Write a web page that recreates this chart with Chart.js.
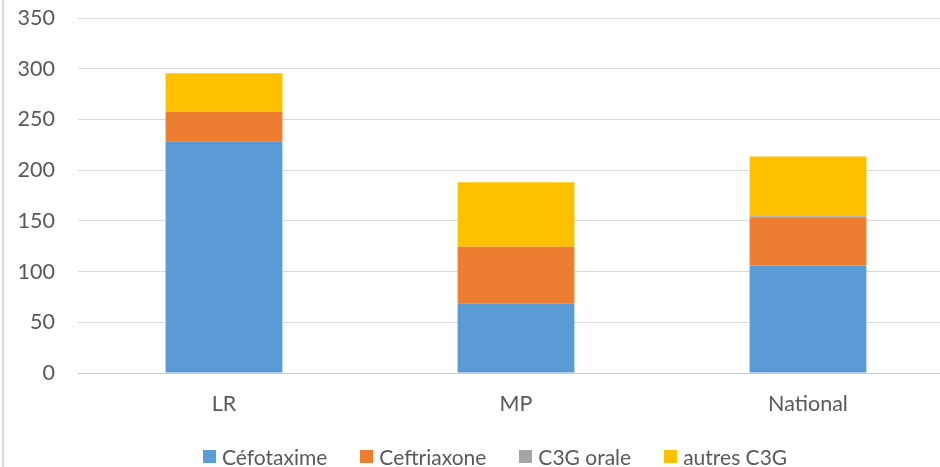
<!DOCTYPE html>
<html>
<head>
<meta charset="utf-8">
<script src="https://cdn.jsdelivr.net/npm/chart.js@4"></script>
<style>
  html, body { margin: 0; padding: 0; background: #fff; }
  body { width: 940px; height: 467px; overflow: hidden; position: relative; }
  #wrap { position: absolute; left: 0; top: 0; width: 956px; height: 467px; }
  #frame { position: absolute; left: 2px; top: 0; width: 2px; height: 467px; background: #d9d9d9; }
  #legend { position: absolute; left: 203px; top: 444px; height: 24px; display: flex; align-items: center;
            font-family: Lato, "Open Sans", sans-serif; font-size: 21px;
            color: #595959; white-space: nowrap; }
  .item { display: flex; align-items: center; margin-right: 33px; }
  .box { width: 13px; height: 13px; margin-right: 6px; }
</style>
</head>
<body>
<div id="wrap"><canvas id="c" width="956" height="467"></canvas></div>
<div id="frame"></div>
<div id="legend"></div>
<script>
const categories = ["LR", "MP", "National"];
const seriesNames = ["Céfotaxime", "Ceftriaxone", "C3G orale", "autres C3G"];
const cefotaxime = [228.5, 68.3, 106];
const ceftriaxone = [29, 56.2, 47.5];
const c3gOrale = [0, 0, 1];
const autresC3G = [38, 63.5, 59];
const yTicks = [0, 50, 100, 150, 200, 250, 300, 350];

const colors = ["#5B9BD5", "#ED7D31", "#A5A5A5", "#FFC000"];
const seriesValues = [cefotaxime, ceftriaxone, c3gOrale, autresC3G];

const font = { family: "Lato, 'Open Sans', sans-serif", size: 21.5 };

const chart = new Chart(document.getElementById("c"), {
  type: "bar",
  data: {
    labels: categories,
    datasets: seriesNames.map((n, i) => ({
      label: n,
      data: seriesValues[i],
      backgroundColor: colors[i],
      borderWidth: 0,
      categoryPercentage: 1,
      barPercentage: 0.4
    }))
  },
  options: {
    responsive: false,
    animation: false,
    layout: { padding: { top: 18, left: 0, right: 2, bottom: 0 } },
    plugins: { legend: { display: false }, tooltip: { enabled: false } },
    scales: {
      x: {
        stacked: true,
        grid: { display: false, drawTicks: false },
        border: { display: true, color: "#c9c9c9", width: 1 },
        ticks: { color: "#595959", font: font, padding: 18 },
        afterFit: s => { s.height = 94; }
      },
      y: {
        stacked: true,
        min: 0, max: 350,
        afterBuildTicks: s => { s.ticks = yTicks.map(v => ({ value: v })); },
        grid: { color: "#d9d9d9", lineWidth: 1, drawTicks: true, tickLength: 20, tickColor: "rgba(0,0,0,0)" },
        border: { display: false },
        ticks: { color: "#595959", font: font, padding: 3 },
        afterFit: s => { s.width = 78; }
      }
    }
  }
});

const legend = document.getElementById("legend");
chart.data.datasets.forEach(ds => {
  const it = document.createElement("div");
  it.className = "item";
  const b = document.createElement("span");
  b.className = "box";
  b.style.background = ds.backgroundColor;
  const t = document.createElement("span");
  t.textContent = ds.label;
  it.appendChild(b); it.appendChild(t);
  legend.appendChild(it);
});
</script>
</body>
</html>
